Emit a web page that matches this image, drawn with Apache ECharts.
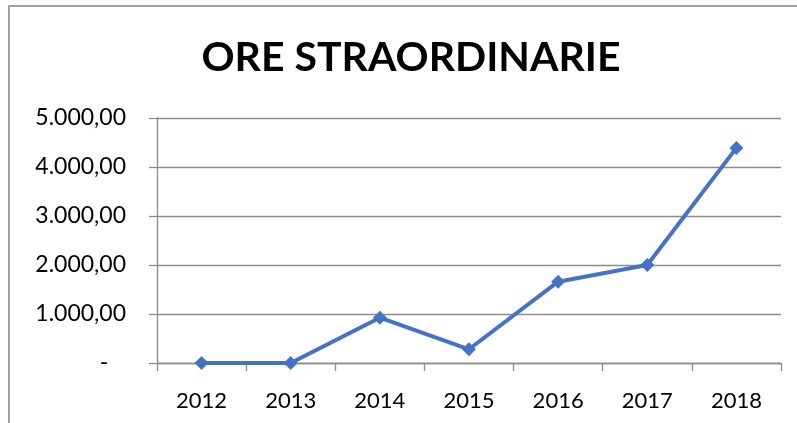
<!DOCTYPE html>
<html>
<head>
<meta charset="utf-8">
<script src="https://cdn.jsdelivr.net/npm/echarts@6/dist/echarts.min.js"></script>
<style>
html,body{margin:0;padding:0;background:#fff;}
#chart{width:797px;height:423px;}
</style>
</head>
<body>
<div id="chart"></div>
<script>
var titleText = 'ORE STRAORDINARIE';
var categories = ['2012', '2013', '2014', '2015', '2016', '2017', '2018'];
var values = [0, 0, 925, 280, 1660, 2000, 4390];
var yMin = 0, yMax = 5000, yStep = 1000;

function fmtIt(v) {
  if (v === 0) return '-   ';
  var s = Math.round(v).toString();
  s = s.replace(/\B(?=(\d{3})+(?!\d))/g, '.');
  return s + ',00';
}

var chart = echarts.init(document.getElementById('chart'), null, {renderer: 'canvas'});
var gridColor = '#8c8c8c';
chart.setOption({
  animation: false,
  backgroundColor: '#ffffff',
  graphic: [{
    type: 'rect',
    shape: {x: 9, y: 6, width: 820, height: 450},
    style: {fill: 'none', stroke: '#a0a0a0', lineWidth: 2},
    silent: true
  }, {
    type: 'text',
    x: 411,
    y: 58,
    style: {
      text: titleText,
      align: 'center',
      verticalAlign: 'middle',
      font: 'bold 41px Lato',
      fill: '#000'
    },
    silent: true
  }],
  grid: {left: 157, right: 16, top: 118, bottom: 60, containLabel: false},
  xAxis: {
    type: 'category',
    data: categories,
    boundaryGap: true,
    axisLine: {show: true, lineStyle: {color: gridColor, width: 1.3}},
    axisTick: {show: true, length: 8, lineStyle: {color: gridColor, width: 1.3}},
    axisLabel: {fontFamily: 'Lato', fontSize: 22, color: '#000', margin: 27}
  },
  yAxis: {
    type: 'value',
    min: yMin, max: yMax, interval: yStep,
    axisLine: {show: true, lineStyle: {color: gridColor, width: 1.3}},
    axisTick: {show: true, length: 8, lineStyle: {color: gridColor, width: 1.3}},
    splitLine: {show: true, lineStyle: {color: gridColor, width: 1.3}},
    axisLabel: {fontFamily: 'Lato', fontSize: 23, color: '#000', margin: 31, formatter: fmtIt}
  },
  series: [{
    type: 'line',
    data: values,
    symbol: 'diamond',
    symbolSize: 14,
    showAllSymbol: true,
    lineStyle: {color: '#4472C4', width: 4},
    itemStyle: {color: '#4472C4'}
  }]
});
</script>
</body>
</html>
